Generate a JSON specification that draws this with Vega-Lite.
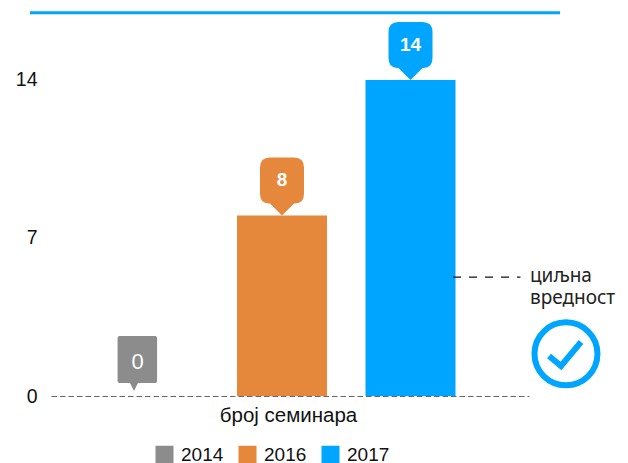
{
"$schema":"https://vega.github.io/schema/vega-lite/v6.json",
"width":478,"height":384,
"autosize":{"type":"none"},
"padding":{"left":51,"top":12,"right":99,"bottom":67},
"background":"white",
"config":{"view":{"stroke":null},"font":"Liberation Sans"},
"datasets":{
"bars":[{"year":2014,"seminars":0},{"year":2016,"seminars":8},{"year":2017,"seminars":14}],
"topline":[{"from":2012.747,"to":2018.262,"level":16.98}],
"target":[{"from":2017.359,"to":2017.928,"level":5.27}],
"targetlabel":[{"x":2018.008,"level":5.317,"label":"циљна"},{"x":2018.008,"level":4.36,"label":"вредност"}],
"badge":[{"x":2018.312,"level":1.87}],
"check":[{"x":2018.169,"level":1.772,"o":1},{"x":2018.27,"level":1.329,"o":2},{"x":2018.439,"level":2.393,"o":3}]
},
"layer":[
{"data":{"name":"bars"},
 "mark":{"type":"bar","width":90,"orient":"vertical"},
 "encoding":{
  "x":{"field":"year","type":"quantitative","scale":{"domain":[2013,2014,2016,2017,2018],"range":[0,83,231,359.5,478],"nice":false,"zero":false,"padding":0},
   "axis":{"title":"број семинара","labels":false,"ticks":false,"grid":false,"domain":true,"domainDash":[5.5,3],"domainColor":"#666666","domainWidth":1,"titleFontSize":20.5,"titleFontWeight":"normal","titleColor":"#111111","titlePadding":9,"titleX":237,"zindex":1}},
  "y":{"field":"seminars","type":"quantitative","scale":{"domain":[0,17.01],"nice":false},
   "axis":{"title":null,"values":[0,7,14],"ticks":false,"grid":false,"domain":false,"labelFontSize":19.5,"labelColor":"#111111","labelPadding":14}},
  "color":{"field":"year","type":"nominal","scale":{"domain":[2014,2016,2017],"range":["#8C8C8C","#E5883C","#00A5FF"]},
   "legend":{"title":null,"orient":"none","legendX":104,"legendY":433,"direction":"horizontal","columns":3,"symbolType":"square","symbolSize":324,"symbolStrokeWidth":0,"labelFontSize":19,"labelColor":"#111111","labelOffset":7,"columnPadding":14}}
 }},
{"data":{"name":"bars"},"transform":[{"filter":"datum.year!=2014"}],
 "mark":{"type":"point","filled":true,"opacity":1,"size":7744,"shape":"M0,0 L-.273,-.273 L-.273,-.273 L-.3,-.273 Q-.5,-.273 -.5,-.5 L-.5,-1.09 Q-.5,-1.318 -.273,-1.318 L.273,-1.318 Q.5,-1.318 .5,-1.09 L.5,-.5 Q.5,-.273 .3,-.273 L.273,-.273 Z"},
 "encoding":{"x":{"field":"year","type":"quantitative"},"y":{"field":"seminars","type":"quantitative"},"color":{"field":"year","type":"nominal"}}},
{"data":{"name":"bars"},"transform":[{"filter":"datum.year==2014"}],
 "mark":{"type":"point","filled":true,"opacity":1,"size":6241,"shape":"M0,-.127 L-.1,-.33 L-.366,-.33 Q-.416,-.33 -.416,-.38 L-.416,-1.47 Q-.416,-1.52 -.366,-1.52 L.534,-1.52 Q.584,-1.52 .584,-1.47 L.584,-.38 Q.584,-.33 .534,-.33 L.1,-.33 Z"},
 "encoding":{"x":{"field":"year","type":"quantitative"},"y":{"field":"seminars","type":"quantitative"},"color":{"field":"year","type":"nominal"}}},
{"data":{"name":"bars"},"transform":[{"filter":"datum.year!=2014"}],
 "mark":{"type":"text","color":"white","fontSize":19,"fontWeight":"bold","dy":-35,"baseline":"middle"},
 "encoding":{"x":{"field":"year","type":"quantitative"},"y":{"field":"seminars","type":"quantitative"},"text":{"field":"seminars","type":"nominal"}}},
{"data":{"name":"bars"},"transform":[{"filter":"datum.year==2014"}],
 "mark":{"type":"text","color":"white","fontSize":22,"dy":-34,"dx":3.5,"baseline":"middle"},
 "encoding":{"x":{"field":"year","type":"quantitative"},"y":{"field":"seminars","type":"quantitative"},"text":{"field":"seminars","type":"nominal"}}},
{"data":{"name":"topline"},
 "mark":{"type":"rule","color":"#00A5FF","strokeWidth":3},
 "encoding":{"x":{"field":"from","type":"quantitative"},"x2":{"field":"to"},"y":{"field":"level","type":"quantitative"}}},
{"data":{"name":"target"},
 "mark":{"type":"rule","color":"#111111","strokeWidth":1.3,"strokeDash":[8,8]},
 "encoding":{"x":{"field":"from","type":"quantitative"},"x2":{"field":"to"},"y":{"field":"level","type":"quantitative"}}},
{"data":{"name":"targetlabel"},
 "mark":{"type":"text","align":"left","baseline":"middle","font":"Noto Sans","fontSize":19,"color":"#222222"},
 "encoding":{"x":{"field":"x","type":"quantitative"},"y":{"field":"level","type":"quantitative"},"text":{"field":"label","type":"nominal"}}},
{"data":{"name":"badge"},
 "mark":{"type":"point","shape":"circle","size":3969,"filled":false,"opacity":1,"stroke":"#00A5FF","strokeWidth":6},
 "encoding":{"x":{"field":"x","type":"quantitative"},"y":{"field":"level","type":"quantitative"}}},
{"data":{"name":"check"},
 "mark":{"type":"line","color":"#00A5FF","strokeWidth":6,"strokeJoin":"miter"},
 "encoding":{"x":{"field":"x","type":"quantitative"},"y":{"field":"level","type":"quantitative"},"order":{"field":"o","type":"quantitative"}}}
]
}
